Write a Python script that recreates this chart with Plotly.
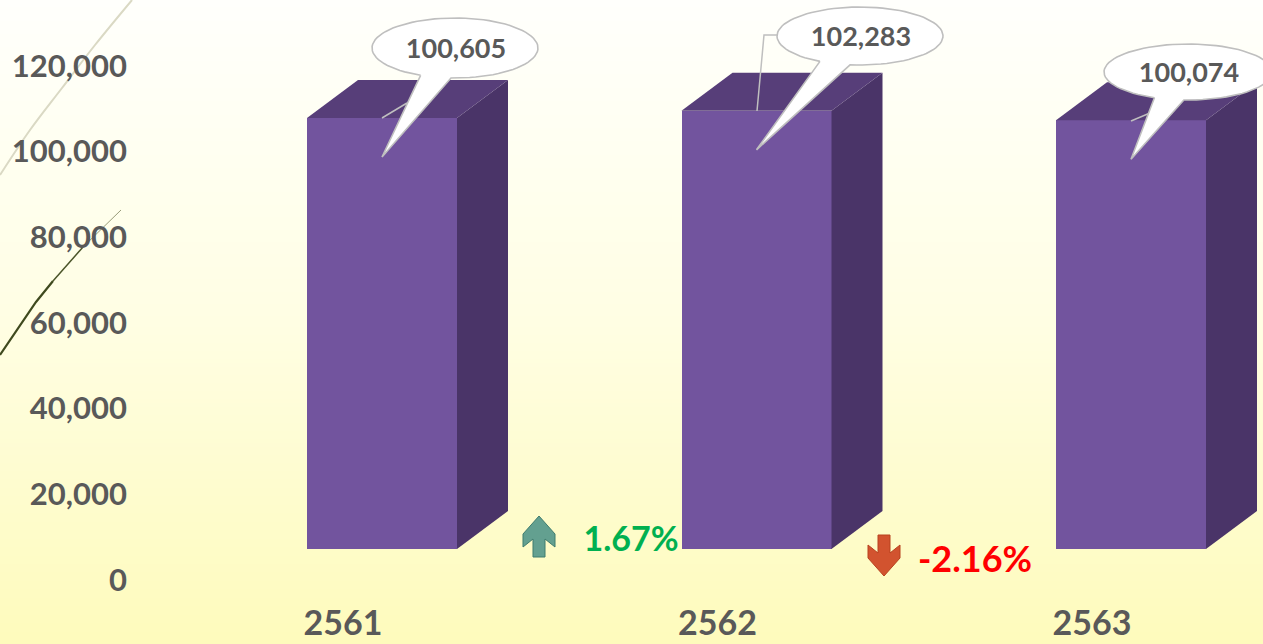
import numpy as np
import plotly.graph_objects as go

years = ["2561", "2562", "2563"]
values = [100605, 102283, 100074]
y_ticks = [0, 20000, 40000, 60000, 80000, 100000, 120000]
changes = ["1.67%", "-2.16%"]

W, H = 1263, 644
FRONT, TOP, SIDE = "#72549E", "#573E79", "#4A3468"
INK = "#595959"
FONT = "Lato"
PX_PER_UNIT = 0.004284
BASE_PY = 549
TICK_ZERO_PY = 580
X0_PX, X_STEP = 382, 374.5
BAR_W = 150
DX, DY = 51, 38
LABEL_SHIFT_PX = 39


def xd(px):
    return (px - X0_PX) / X_STEP


def yd(py):
    return (BASE_PY - py) / PX_PER_UNIT


fig = go.Figure()

# page gradient
grad_y = [yd(H), yd(0)]
fig.add_trace(go.Heatmap(
    x=[xd(0), xd(W)], y=np.linspace(grad_y[0], grad_y[1], 5).tolist(),
    z=[[0, 0], [0.25, 0.25], [0.5, 0.5], [0.75, 0.75], [1, 1]],
    zsmooth="best", showscale=False, hoverinfo="skip",
    colorscale=[[0, "#FEFBBC"], [0.25, "#FEFCCF"], [0.5, "#FFFEE3"], [0.75, "#FFFFF0"], [1, "#FFFFFC"]],
))

# front faces
fig.add_trace(go.Bar(x=[0, 1, 2], y=values, width=BAR_W / X_STEP, marker=dict(color=FRONT, line_width=0),
                     hoverinfo="skip"))


def poly(xs, ys, fill, line=None, lw=0):
    fig.add_trace(go.Scatter(x=xs, y=ys, mode="lines", fill="toself", fillcolor=fill,
                             line=dict(color=line or fill, width=lw), hoverinfo="skip"))


def line(pxs, pys, color, width, shape="linear"):
    fig.add_trace(go.Scatter(x=[xd(p) for p in pxs], y=[yd(p) for p in pys], mode="lines",
                             line=dict(color=color, width=width, shape=shape), hoverinfo="skip"))


half = BAR_W / 2 / X_STEP
ddx, ddy = DX / X_STEP, DY / PX_PER_UNIT
for i, v in enumerate(values):
    poly([i + half, i + half + ddx, i + half + ddx, i + half, i + half], [0, ddy, v + ddy, v, 0], SIDE)
    poly([i - half, i + half, i + half + ddx, i - half + ddx, i - half], [v, v, v + ddy, v + ddy, v], TOP)

# decorative curves at the left edge
line([0, 30, 62, 95, 132], [175, 130, 88, 45, 0], "#DAD9C4", 2, "spline")
line([0, 20, 36, 53], [355, 326, 302, 281], "#3F4A1E", 2.2)
line([53, 68, 83], [281, 264, 247], "#4A5428", 1.5)
line([83, 102, 121], [247, 228, 210], "#6A7048", 0.7)

# callouts
callouts = [
    dict(c=(455, 48), r=(83, 30), tl=(421, 75), tr=(451, 78), leader=([382, 407], [118, 103])),
    dict(c=(860, 36), r=(83, 29), tl=(819, 62), tr=(850, 65), leader=([757, 764, 777], [111, 35, 35])),
    dict(c=(1188, 72), r=(84, 28), tl=(1154, 98), tr=(1184, 99), leader=([1131, 1150], [121, 113])),
]
for i, (co, v) in enumerate(zip(callouts, values)):
    cx, cy = co["c"]
    rx, ry = co["r"]
    tipx = X0_PX + i * X_STEP
    tipy = BASE_PY - v * PX_PER_UNIT + 39
    line(co["leader"][0], co["leader"][1], "#BFBFBF", 1.5)
    a0 = np.arctan2((co["tl"][1] - cy) / ry, (co["tl"][0] - cx) / rx)
    a1 = np.arctan2((co["tr"][1] - cy) / ry, (co["tr"][0] - cx) / rx)
    ang = np.linspace(a0, a1 + (2 * np.pi if a1 < a0 else 0), 80)
    pxs = list(cx + rx * np.cos(ang)) + [tipx, cx + rx * np.cos(a0)]
    pys = list(cy + ry * np.sin(ang)) + [tipy, cy + ry * np.sin(a0)]
    poly([xd(p) for p in pxs], [yd(p) for p in pys], "#FFFFFF", "#BFBFBF", 1.6)
    fig.add_trace(go.Scatter(x=[xd(cx + 1)], y=[yd(cy + 3)], mode="text", text=[f"{v:,}"],
                             textfont=dict(family=FONT, size=27, color=INK, weight="bold"), hoverinfo="skip"))


def arrow(cx, top, up, fill, edge):
    rel = [(0, 0), (16, 18), (16, 31), (6, 23), (6, 41), (-6, 41), (-6, 23), (-16, 31), (-16, 18), (0, 0)]
    pxs = [cx + a for a, b in rel]
    pys = [top + b if up else top + 41 - b for a, b in rel]
    poly([xd(p) for p in pxs], [yd(p) for p in pys], fill, edge, 1)


arrow(539, 516, True, "#63A090", "#3F7C6E")
arrow(884, 535, False, "#D2532F", "#B8431F")

fig.add_trace(go.Scatter(x=[xd(631)], y=[yd(542)], mode="text", text=[changes[0]],
                         textfont=dict(family=FONT, size=34, color="#00B050", weight="bold"), hoverinfo="skip"))
fig.add_trace(go.Scatter(x=[xd(975)], y=[yd(563)], mode="text", text=[changes[1]],
                         textfont=dict(family=FONT, size=36, color="#FF0000", weight="bold"), hoverinfo="skip"))

# invisible trace that keeps the shifted value axis alive
fig.add_trace(go.Scatter(x=[0], y=[0], yaxis="y2", mode="markers", marker_opacity=0, hoverinfo="skip"))

tick_font = dict(family=FONT, size=31, color=INK, weight="bold")
y2_low = (TICK_ZERO_PY - H) / PX_PER_UNIT
y2_high = TICK_ZERO_PY / PX_PER_UNIT
shift = LABEL_SHIFT_PX / X_STEP
fig.update_layout(
    width=W, height=H, margin=dict(l=0, r=0, t=0, b=0), showlegend=False,
    paper_bgcolor="#FFFFF0", plot_bgcolor="rgba(0,0,0,0)", bargap=0,
    xaxis=dict(range=[xd(0), xd(W)], tickmode="array", tickvals=[i - shift for i in range(3)], ticktext=years,
               tickfont=dict(family=FONT, size=34, color=INK, weight="bold"),
               showgrid=False, zeroline=False, showline=False, ticks="", automargin=False,
               anchor="free", position=(H - 600) / H),
    yaxis=dict(range=[yd(H), yd(0)], visible=False, showgrid=False, zeroline=False, automargin=False),
    yaxis2=dict(range=[y2_low, y2_high], overlaying="y", anchor="free", position=127 / W, side="left",
                tickmode="array", tickvals=y_ticks, tickformat=",", tickfont=tick_font, automargin=False,
                showgrid=False, zeroline=False, showline=False, ticks=""),
)

fig.write_html("out.html", config=dict(displayModeBar=False),
               post_script="document.body.style.margin='0';document.body.style.overflow='hidden';")
